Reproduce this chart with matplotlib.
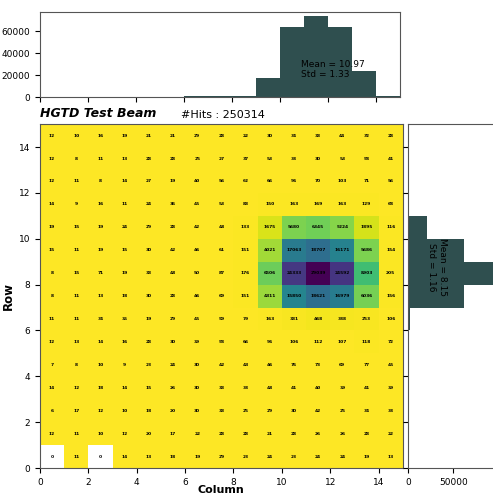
import matplotlib
matplotlib.use('Agg')
import matplotlib.pyplot as plt
import numpy as np

# hit counts per pixel, row 14 (top) down to row 0
counts = [
    [12, 10, 16, 19, 21, 21, 29, 28, 22, 30, 34, 33, 44, 32, 28],
    [12, 8, 11, 13, 28, 28, 25, 27, 37, 53, 38, 30, 53, 58, 41],
    [12, 11, 8, 14, 27, 19, 40, 56, 62, 66, 96, 70, 103, 71, 56],
    [14, 9, 16, 11, 24, 36, 45, 53, 83, 150, 163, 169, 163, 129, 68],
    [19, 15, 19, 24, 29, 28, 42, 48, 133, 1675, 5680, 6345, 5224, 1895, 116],
    [15, 11, 19, 15, 30, 42, 46, 61, 151, 4021, 17063, 18707, 16171, 5686, 154],
    [8, 15, 71, 19, 33, 48, 50, 87, 176, 6506, 24333, 29039, 24592, 8903, 205],
    [8, 11, 13, 18, 30, 28, 46, 69, 151, 4311, 15850, 18621, 16979, 6036, 156],
    [11, 11, 34, 35, 19, 29, 45, 59, 79, 163, 331, 468, 388, 253, 106],
    [12, 13, 14, 16, 28, 30, 39, 58, 66, 96, 106, 112, 107, 118, 72],
    [7, 8, 10, 9, 23, 24, 30, 42, 43, 46, 76, 73, 69, 77, 45],
    [14, 12, 18, 14, 15, 26, 30, 33, 38, 48, 41, 40, 39, 41, 39],
    [6, 17, 12, 10, 18, 20, 30, 33, 25, 29, 30, 42, 25, 34, 38],
    [12, 11, 10, 12, 20, 17, 22, 28, 28, 21, 28, 26, 26, 28, 22],
    [0, 11, 0, 14, 13, 18, 19, 29, 23, 24, 23, 24, 24, 19, 13],
]
n_hits = 250314
col_stats = 'Mean = 10.97\nStd = 1.33'
row_stats = 'Mean = 8.15\nStd = 1.16'

data = np.array(counts)[::-1]  # row 0 first
cols = np.arange(15)
rows = np.arange(15)
edges = np.arange(16)

fig = plt.figure(figsize=(4.93, 4.94), dpi=100)
ax = fig.add_axes([0.081, 0.0526, 0.736, 0.696])
axtop = fig.add_axes([0.081, 0.8036, 0.730, 0.172])
axright = fig.add_axes([0.8276, 0.0526, 0.181, 0.696])

hist_color = 'darkslategray'

# main 2d map
masked = np.ma.masked_equal(data, 0)
ax.pcolormesh(edges, edges, masked, cmap='viridis_r', vmin=0, vmax=data.max())
for i in rows:
    for j in cols:
        ax.text(j + 0.5, i + 0.5, str(data[i, j]), ha='center', va='center',
                fontsize=3.2, fontweight='bold')
ax.set_xlim(0, 15)
ax.set_ylim(0, 15)
ax.set_xticks(np.arange(0, 15, 2))
ax.set_yticks(np.arange(0, 15, 2))
ax.tick_params(labelsize=6.5)
ax.set_xlabel('Column', fontsize=8, fontweight='bold', labelpad=-1)
ax.set_ylabel('Row', fontsize=8.5, fontweight='bold', labelpad=3)
ax.text(0.0, 1.012, 'HGTD Test Beam', transform=ax.transAxes, fontsize=9,
        fontweight='bold', fontstyle='italic', va='bottom')
ax.text(0.39, 1.012, '#Hits : %d' % n_hits, transform=ax.transAxes,
        fontsize=8, va='bottom')

# column projection
axtop.hist(cols, bins=edges, weights=data.sum(axis=0), color=hist_color)
axtop.set_xlim(0, 15)
axtop.set_xticks(np.arange(0, 15, 2))
axtop.set_xticklabels([])
axtop.set_yticks([0, 20000, 40000, 60000])
axtop.tick_params(labelsize=6.5)
axtop.text(10.9, 25000, col_stats, fontsize=6.5, va='center')

# row projection
axright.hist(rows, bins=edges, weights=data.sum(axis=1), color=hist_color,
             orientation='horizontal')
axright.set_ylim(0, 15)
axright.set_yticks(np.arange(0, 15, 2))
axright.set_yticklabels([])
axright.set_xticks([0, 50000])
axright.tick_params(labelsize=6.5)
axright.text(32000, 8.75, row_stats, fontsize=6.5, rotation=-90,
             ha='center', va='center')

for a in (ax, axtop, axright):
    for s in a.spines.values():
        s.set_color('#555555')

fig.savefig('out.png', dpi=100)
